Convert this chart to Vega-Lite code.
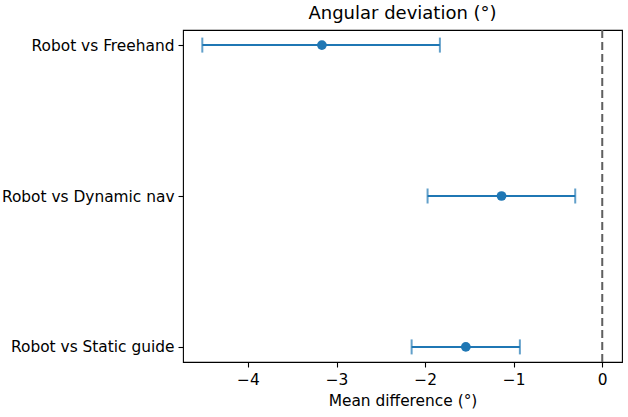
{
  "$schema": "https://vega.github.io/schema/vega-lite/v6.json",
  "width": 439,
  "height": 332,
  "autosize": {"type": "none"},
  "padding": {"left": 183, "top": 30, "right": 6, "bottom": 55},
  "background": "white",
  "config": {
    "font": "DejaVu Sans",
    "view": {"stroke": "#000000", "strokeWidth": 1.1},
    "axis": {
      "domain": false,
      "grid": false,
      "tickColor": "#000000",
      "tickSize": 5,
      "tickWidth": 1.1,
      "labelColor": "#000000",
      "labelFont": "DejaVu Sans",
      "labelFontSize": 15.4,
      "titleFont": "DejaVu Sans",
      "titleFontSize": 15.4,
      "titleFontWeight": "normal",
      "titleColor": "#000000"
    }
  },
  "title": {
    "text": "Angular deviation (°)",
    "font": "DejaVu Sans",
    "fontSize": 18,
    "fontWeight": "normal",
    "color": "#000000",
    "anchor": "middle",
    "offset": 6
  },
  "data": {
    "values": [
      {"comparison": "Robot vs Freehand", "mean": -3.165, "lo": -4.515, "hi": -1.833},
      {"comparison": "Robot vs Dynamic nav", "mean": -1.137, "lo": -1.972, "hi": -0.305},
      {"comparison": "Robot vs Static guide", "mean": -1.54, "lo": -2.152, "hi": -0.93}
    ]
  },
  "encoding": {
    "y": {
      "field": "comparison",
      "type": "nominal",
      "sort": ["Robot vs Freehand", "Robot vs Dynamic nav", "Robot vs Static guide"],
      "scale": {"type": "point", "padding": 0.1},
      "axis": {"title": null, "labelPadding": 4}
    }
  },
  "layer": [
    {
      "data": {"values": [{"ref": 0}]},
      "mark": {"type": "rule", "color": "#5f5f5f", "strokeWidth": 2, "strokeDash": [8, 4]},
      "encoding": {
        "x": {"field": "ref", "type": "quantitative"},
        "y": null
      }
    },
    {
      "mark": {"type": "rule", "color": "#1f77b4", "strokeWidth": 2},
      "encoding": {
        "x": {
          "field": "lo",
          "type": "quantitative",
          "scale": {"domain": [-4.733, 0.223], "nice": false, "zero": false},
          "axis": {
            "title": "Mean difference (°)",
            "values": [-4, -3, -2, -1, 0],
            "format": "d",
            "labelExpr": "replace(datum.label, '-', '−')",
            "labelPadding": 5,
            "titlePadding": 6
          }
        },
        "x2": {"field": "hi"}
      }
    },
    {
      "mark": {"type": "tick", "color": "#1f77b4", "thickness": 2, "size": 15},
      "encoding": {"x": {"field": "lo", "type": "quantitative"}}
    },
    {
      "mark": {"type": "tick", "color": "#1f77b4", "thickness": 2, "size": 15},
      "encoding": {"x": {"field": "hi", "type": "quantitative"}}
    },
    {
      "mark": {"type": "circle", "color": "#1f77b4", "opacity": 1, "size": 95},
      "encoding": {"x": {"field": "mean", "type": "quantitative"}}
    }
  ]
}
